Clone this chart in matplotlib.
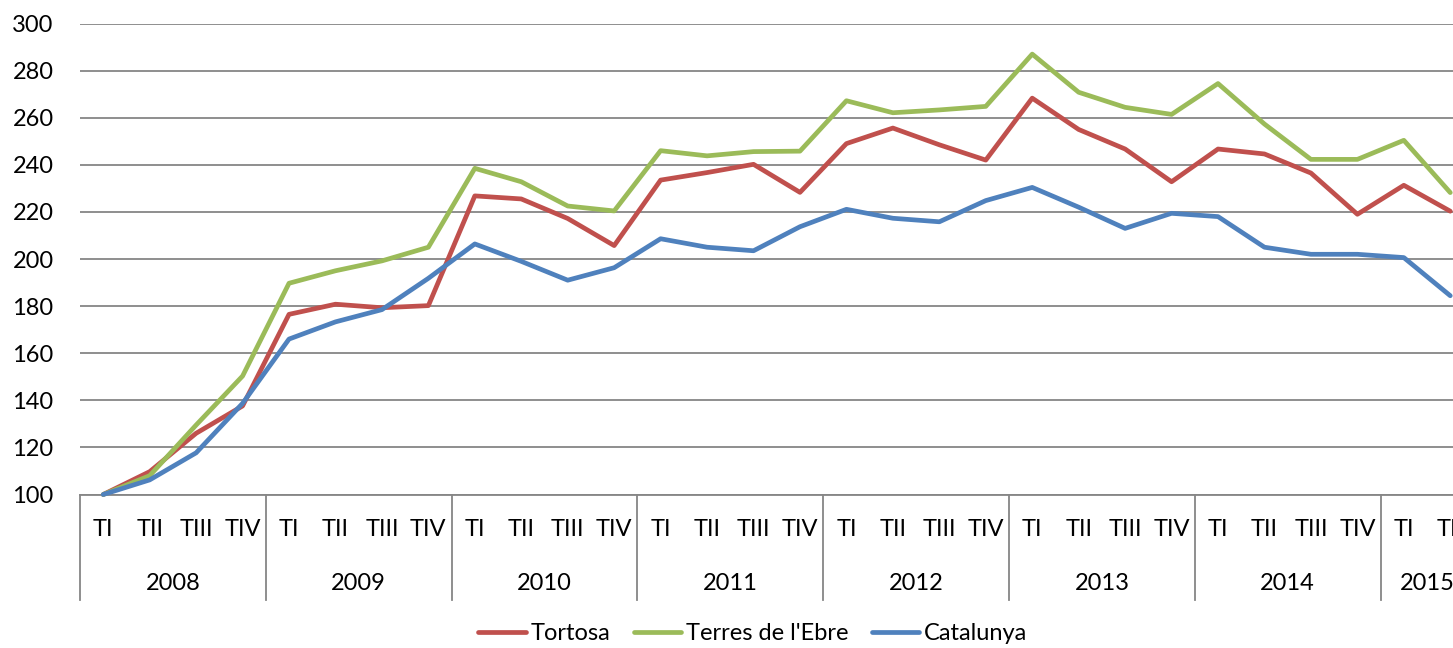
import matplotlib
matplotlib.use("Agg")
import matplotlib.pyplot as plt

# -------------------------
# Data (index, 2008 TI = 100)
# -------------------------
years = ["2008", "2009", "2010", "2011", "2012", "2013", "2014", "2015"]
quarters = ["TI", "TII", "TIII", "TIV"]
n_last_year = 2  # 2015 only has TI, TII

tortosa = [100, 109.7, 126, 137.6,
           176.5, 180.8, 179.3, 180.2,
           226.8, 225.5, 217.2, 205.7,
           233.5, 236.7, 240.2, 228.3,
           249, 255.6, 248.5, 242,
           268.3, 255, 246.7, 232.8,
           246.7, 244.6, 236.5, 219,
           231.3, 220.3]
terres_ebre = [100, 108, 129.5, 150.3,
               189.7, 195, 199.2, 205,
               238.5, 232.8, 222.5, 220.4,
               246, 243.8, 245.6, 245.8,
               267.2, 262.1, 263.3, 264.8,
               287, 270.8, 264.4, 261.4,
               274.5, 257.3, 242.3, 242.3,
               250.4, 228.2]
catalunya = [100, 106.2, 117.7, 138.7,
             166, 173.3, 178.5, 191.8,
             206.4, 199, 191, 196.3,
             208.6, 205, 203.5, 213.7,
             221.1, 217.3, 215.8, 224.8,
             230.4, 222, 213, 219.4,
             218, 205, 202, 202,
             200.6, 184.4]

series = [("Tortosa", tortosa, "#C0504D"),
          ("Terres de l'Ebre", terres_ebre, "#9BBB59"),
          ("Catalunya", catalunya, "#4F81BD")]

# -------------------------
# Figure
# -------------------------
plt.rcParams['font.family'] = ['Lato', 'DejaVu Sans']
W, H = 1453, 648
fig = plt.figure(figsize=(W / 100, H / 100), dpi=100)

ax_left, ax_top, ax_bottom = 80, 23.5, 494.5
step = 46.45
n = len(tortosa)
ax = fig.add_axes([ax_left / W, (H - ax_bottom) / H,
                   n * step / W, (ax_bottom - ax_top) / H])

x = list(range(n))
for name, vals, col in series:
    ax.plot(x, vals, color=col, lw=3.4, label=name, solid_joinstyle='round',
            solid_capstyle='round', clip_on=False, zorder=3)

ax.set_xlim(-0.5, n - 0.5)
ax.set_ylim(100, 300)
ax.set_yticks(range(100, 301, 20))
ax.yaxis.grid(True, color="#868686", lw=1.3)
ax.set_axisbelow(True)
for s in ["left", "right", "top"]:
    ax.spines[s].set_visible(False)
ax.spines["bottom"].set_color("#868686")
ax.spines["bottom"].set_linewidth(1.3)
ax.tick_params(axis='y', length=0, pad=19, labelsize=17)
ax.set_xticks([])

# category labels below the axis
trans = ax.get_xaxis_transform()
px = 1.0 / (ax_bottom - ax_top)
y_q = -(530 - ax_bottom) * px
y_y = -(583 - ax_bottom) * px
y_sep = -(600 - ax_bottom) * px

i = 0
for yi, yr in enumerate(years):
    nq = n_last_year if yi == len(years) - 1 else 4
    for q in quarters[:nq]:
        ax.text(i, y_q, q, transform=trans, ha='center', va='center',
                fontsize=17, clip_on=False)
        i += 1
    start = i - nq
    ax.text(start - 0.5 + nq / 2, y_y, yr, transform=trans, ha='center', va='center',
            fontsize=17, clip_on=False)
    ax.plot([start - 0.5, start - 0.5], [0, y_sep], transform=trans,
            color="#868686", lw=1.3, clip_on=False)

fig.legend(loc='center', bbox_to_anchor=(0.518, 0.022), ncol=3, frameon=False,
           fontsize=17, handlelength=2.0, columnspacing=1.0, handletextpad=0.2)

fig.savefig("out.png", dpi=100)
